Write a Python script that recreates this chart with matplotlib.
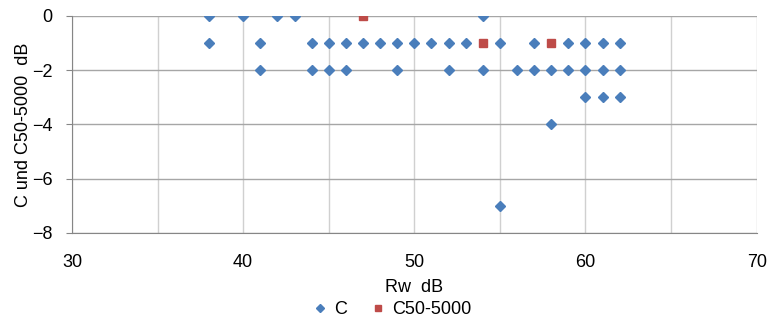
import matplotlib.pyplot as plt

plt.rcParams['font.family'] = ['Liberation Sans', 'DejaVu Sans']

# Daten: C (blaue Rauten) und C50-5000 (rote Quadrate)
c_rw = [38, 40, 42, 43, 54,
        38, 41, 44, 45, 46, 47, 48, 49, 50, 51, 52, 53, 55, 57, 59, 60, 61, 62,
        41, 44, 45, 46, 49, 52, 54, 56, 57, 58, 59, 60, 61, 62,
        60, 61, 62,
        58,
        55]
c_val = [0, 0, 0, 0, 0,
         -1, -1, -1, -1, -1, -1, -1, -1, -1, -1, -1, -1, -1, -1, -1, -1, -1, -1,
         -2, -2, -2, -2, -2, -2, -2, -2, -2, -2, -2, -2, -2, -2,
         -3, -3, -3,
         -4,
         -7]
c50_rw = [47, 54, 58]
c50_val = [0, -1, -1]

fig = plt.figure(figsize=(7.71, 3.2), dpi=100)
ax = fig.add_axes([0.0934, 0.272, 0.888, 0.678])

ax.plot(c_rw, c_val, 'D', color='#4a7ebb', ms=5.2, mec='#4a7ebb', label='C', zorder=3)
ax.plot(c50_rw, c50_val, 's', color='#be4b48', ms=5.6, mec='#be4b48', label='C50-5000', zorder=4)

ax.set_xlim(30, 70)
ax.set_ylim(-8, 0)
ax.set_xticks(range(30, 71, 10))
ax.set_xticks(range(35, 70, 10), minor=True)
ax.set_yticks(range(-8, 1, 2))

ax.grid(True, which='major', axis='y', color='#a6a6a6', lw=1)
ax.grid(True, which='both', axis='x', color='#d0d0d0', lw=1)
ax.set_axisbelow(True)

for s in ['top', 'right']:
    ax.spines[s].set_visible(False)
for s in ['left', 'bottom']:
    ax.spines[s].set_color('#868686')

ax.tick_params(axis='y', length=4, color='#868686', labelsize=13, pad=10)
ax.tick_params(axis='x', which='both', length=0, labelsize=13, pad=15)

ax.set_xlabel('Rw  dB', fontsize=13, labelpad=6)
ax.set_ylabel('C und C50-5000  dB', fontsize=13, labelpad=0)

fig.legend(loc='lower center', bbox_to_anchor=(0.51, -0.045), ncol=2, frameon=False,
           fontsize=13, markerscale=0.8, handlelength=0.6, handletextpad=0.5,
           columnspacing=1.4)

fig.savefig('out.png', dpi=100)
